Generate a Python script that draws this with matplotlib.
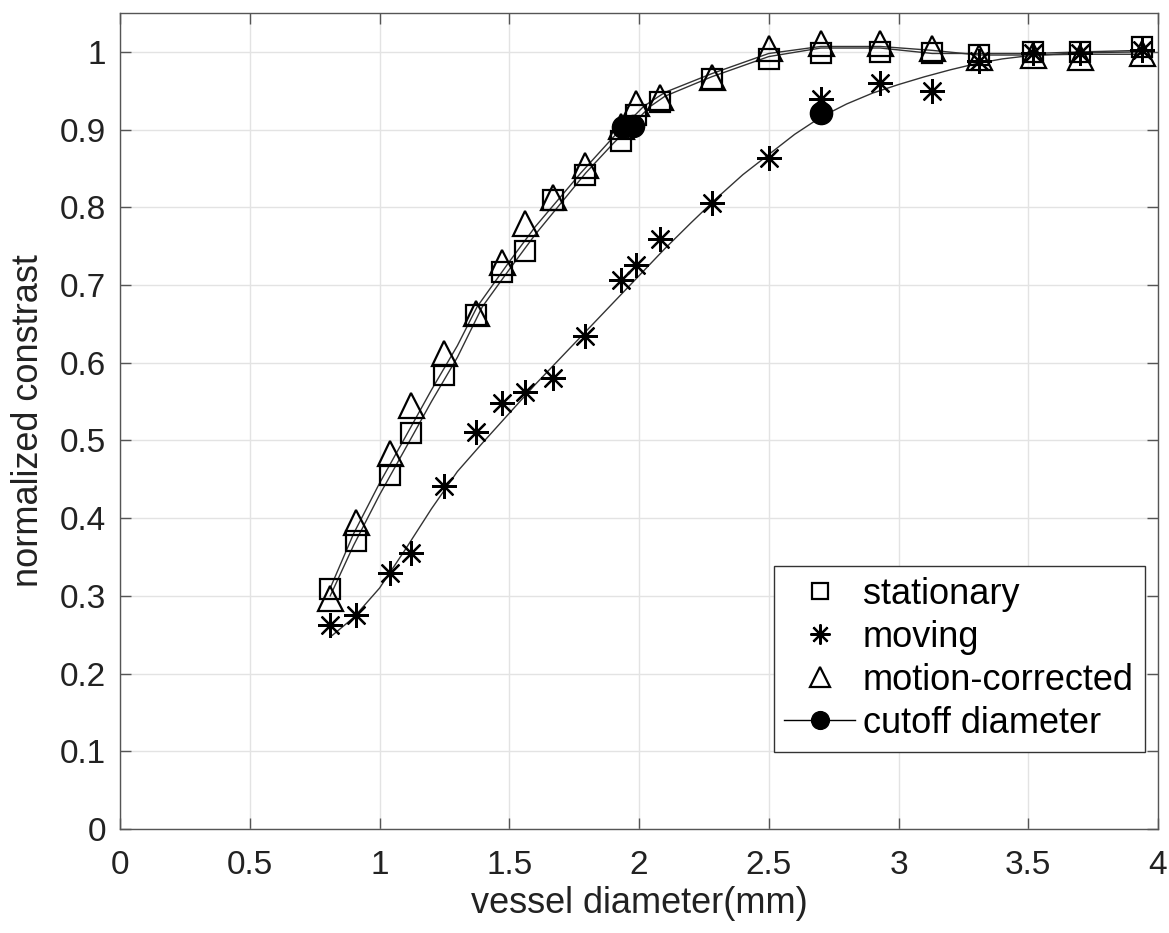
import numpy as np
import matplotlib.pyplot as plt

# vessel diameters (mm) of the measured vessels
diam = [0.81, 0.91, 1.04, 1.12, 1.25, 1.37, 1.47, 1.56, 1.67, 1.79, 1.93,
        1.99, 2.08, 2.28, 2.50, 2.70, 2.93, 3.13, 3.31, 3.52, 3.70, 3.94]

# normalized contrast per vessel
stationary = [0.309, 0.371, 0.456, 0.509, 0.584, 0.661, 0.717, 0.744, 0.810,
              0.842, 0.885, 0.919, 0.936, 0.965, 0.991, 0.998, 1.000, 0.998,
              0.996, 1.000, 1.000, 1.006]
moving = [0.263, 0.275, 0.329, 0.355, 0.441, 0.511, 0.548, 0.562, 0.580,
          0.634, 0.707, 0.726, 0.759, 0.805, 0.863, 0.940, 0.960, 0.950,
          0.988, 0.998, 0.998, 1.002]
corrected = [0.297, 0.395, 0.484, 0.546, 0.612, 0.664, 0.730, 0.780, 0.813,
             0.855, 0.905, 0.934, 0.942, 0.968, 1.005, 1.011, 1.011, 1.005,
             0.994, 0.996, 0.994, 0.998]

# fitted curves
fit_s_x = [0.81, 0.9, 1.0, 1.132, 1.2, 1.3, 1.396, 1.5, 1.6, 1.794, 1.9,
           2.044, 2.1, 2.28, 2.5, 2.7, 2.93, 3.13, 3.31, 3.52, 3.7, 3.94]
fit_s_y = [0.30, 0.365, 0.43, 0.509, 0.55, 0.607, 0.672, 0.72, 0.765, 0.844,
           0.882, 0.93, 0.943, 0.968, 0.994, 1.005, 1.005, 0.998, 0.998,
           0.998, 1.0, 1.002]
fit_c_x = [0.81, 0.9, 1.0, 1.107, 1.2, 1.3, 1.376, 1.5, 1.6, 1.775, 1.9,
           2.018, 2.1, 2.28, 2.5, 2.7, 2.93, 3.13, 3.31, 3.52, 3.7, 3.94]
fit_c_y = [0.31, 0.38, 0.445, 0.509, 0.565, 0.622, 0.672, 0.73, 0.775, 0.844,
           0.89, 0.93, 0.948, 0.972, 0.998, 1.007, 1.007, 1.002, 0.996,
           0.996, 0.997, 0.997]
fit_m_x = [0.81, 0.9, 1.0, 1.1, 1.2, 1.3, 1.4, 1.5, 1.6, 1.7, 1.8, 1.9, 2.0,
           2.1, 2.2, 2.3, 2.4, 2.5, 2.6, 2.7, 2.8, 2.9, 3.0, 3.1, 3.2, 3.3,
           3.4, 3.5, 3.7, 3.94]
fit_m_y = [0.247, 0.272, 0.31, 0.36, 0.412, 0.46, 0.498, 0.535, 0.572, 0.607,
           0.642, 0.677, 0.712, 0.747, 0.78, 0.812, 0.842, 0.868, 0.894,
           0.916, 0.933, 0.947, 0.958, 0.968, 0.977, 0.985, 0.991, 0.995, 0.999,
           1.0]

# cutoff diameters (stationary, corrected, moving)
cut_x = [1.94, 1.975, 2.70]
cut_y = [0.903, 0.905, 0.921]

plt.rcParams['font.family'] = ['Liberation Sans', 'DejaVu Sans']

fig = plt.figure(figsize=(11.69, 9.33), dpi=100)
ax = fig.add_axes([0.1027, 0.1115, 0.8879, 0.8745])

lw = 1.0
lc = '#333333'
ax.plot(fit_s_x, fit_s_y, '-', color=lc, lw=lw, zorder=2)
ax.plot(fit_c_x, fit_c_y, '-', color=lc, lw=lw, zorder=2)
ax.plot(fit_m_x, fit_m_y, '-', color=lc, lw=lw, zorder=2)

ax.plot(diam, stationary, 's', ls='none', ms=15, mfc='none', mec='k', mew=1.6,
        label='stationary', zorder=3)
ax.plot(diam, moving, marker=(8, 2, 0), ls='none', ms=18, mec='k', mew=1.6,
        label='moving', zorder=3)
ax.plot(diam, corrected, '^', ls='none', ms=18, mfc='none', mec='k', mew=1.6,
        label='motion-corrected', zorder=3)
ax.plot(cut_x, cut_y, 'o', ls='none', ms=16, color='k', zorder=4)

# legend entry for the cutoff: line with filled circle
ax.plot([], [], '-o', color='k', lw=lw, ms=16, label='cutoff diameter')

ax.set_xlim(0, 4)
ax.set_ylim(0, 1.05)
ax.set_xticks(np.arange(0, 4.01, 0.5))
ax.set_xticklabels(['0', '0.5', '1', '1.5', '2', '2.5', '3', '3.5', '4'])
ax.set_yticks(np.arange(0, 1.01, 0.1))
ax.set_yticklabels(['0'] + ['%.1f' % v for v in np.arange(0.1, 0.95, 0.1)] + ['1'])

ax.grid(True, color='#e3e3e3', lw=1.0)
ax.set_axisbelow(True)
for s in ax.spines.values():
    s.set_color('#555555')
    s.set_linewidth(1.0)
ax.tick_params(direction='in', top=True, right=True, length=8, width=1.0,
               color='#555555', labelsize=24, labelcolor='#222222')
ax.tick_params(axis='x', pad=15)
ax.tick_params(axis='y', pad=10)

ax.set_xlabel('vessel diameter(mm)', fontsize=26, color='#222222', labelpad=4)
ax.set_ylabel('normalized constrast', fontsize=26, color='#222222', labelpad=10)

leg = ax.legend(loc='lower right', bbox_to_anchor=(0.987, 0.0947),
                borderaxespad=0, fontsize=26, fancybox=False, framealpha=1,
                edgecolor='#333333', handlelength=1.95, handletextpad=0.22,
                labelspacing=0.22, borderpad=0.3, markerscale=0.8)
leg.get_frame().set_linewidth(1.0)

fig.savefig('out.png', dpi=100)
